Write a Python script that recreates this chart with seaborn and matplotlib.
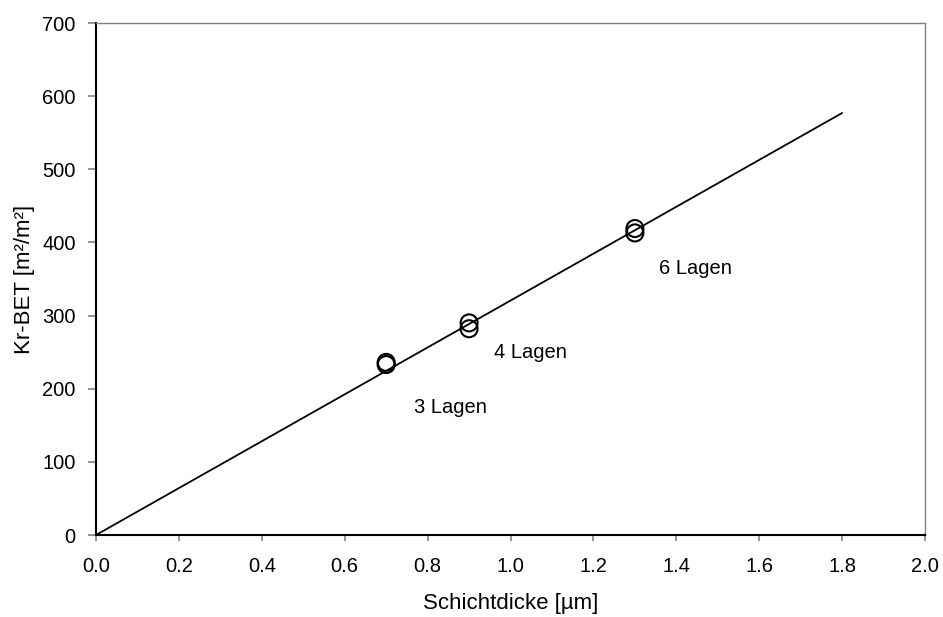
import pandas as pd
import matplotlib.pyplot as plt
import seaborn as sns

# Measured points (two samples per layer count)
schichtdicke = [0.7, 0.7, 0.9, 0.9, 1.3, 1.3]
kr_bet = [233, 236, 282, 290, 413, 419]

# Linear fit through the origin
fit_x = [0.0, 1.8]
fit_y = [0, 577]

# Labels for layer counts
label_text = ['3 Lagen', '4 Lagen', '6 Lagen']
label_x = [0.855, 1.047, 1.447]
label_y = [175, 249, 365]

sns.set_style('white')
plt.rcParams['font.family'] = ['Liberation Sans', 'DejaVu Sans']
plt.rcParams['text.color'] = 'black'
plt.rcParams['axes.labelcolor'] = 'black'

points = pd.DataFrame({'x': schichtdicke, 'y': kr_bet})
fit = pd.DataFrame({'x': fit_x, 'y': fit_y})

fig = plt.figure(figsize=(9.43, 6.17), dpi=100)
ax = fig.add_axes([0.1018, 0.1329, 0.8792, 0.8298])

sns.lineplot(data=fit, x='x', y='y', color='black', linewidth=1.3, ax=ax)
sns.scatterplot(data=points, x='x', y='y', marker='o', s=150,
                facecolors='none', edgecolor='black', linewidth=1.5, ax=ax)

for t, x, y in zip(label_text, label_x, label_y):
    ax.text(x, y, t, ha='center', va='center', fontsize=14.5, color='black')

ax.set_xlim(0, 2.0)
ax.set_ylim(0, 700)
ax.set_xticks([i / 5 for i in range(11)])
ax.set_xticklabels([f'{i / 5:.1f}' for i in range(11)])
ax.set_yticks(range(0, 701, 100))
ax.tick_params(axis='x', direction='out', length=4, width=1.2, pad=12,
               labelsize=14.5, bottom=True, color='gray', labelcolor='black')
ax.tick_params(axis='y', direction='out', length=5.5, width=1.2, pad=9,
               labelsize=14.5, left=True, color='gray', labelcolor='black')
ax.set_xlabel('Schichtdicke [µm]', fontsize=16, labelpad=12)
ax.set_ylabel('Kr-BET [m²/m²]', fontsize=16, labelpad=5)

for side in ['left', 'bottom']:
    ax.spines[side].set_color('black')
    ax.spines[side].set_linewidth(1.5)
for side in ['top', 'right']:
    ax.spines[side].set_color('gray')
    ax.spines[side].set_linewidth(1)

fig.savefig('out.png', dpi=100)
